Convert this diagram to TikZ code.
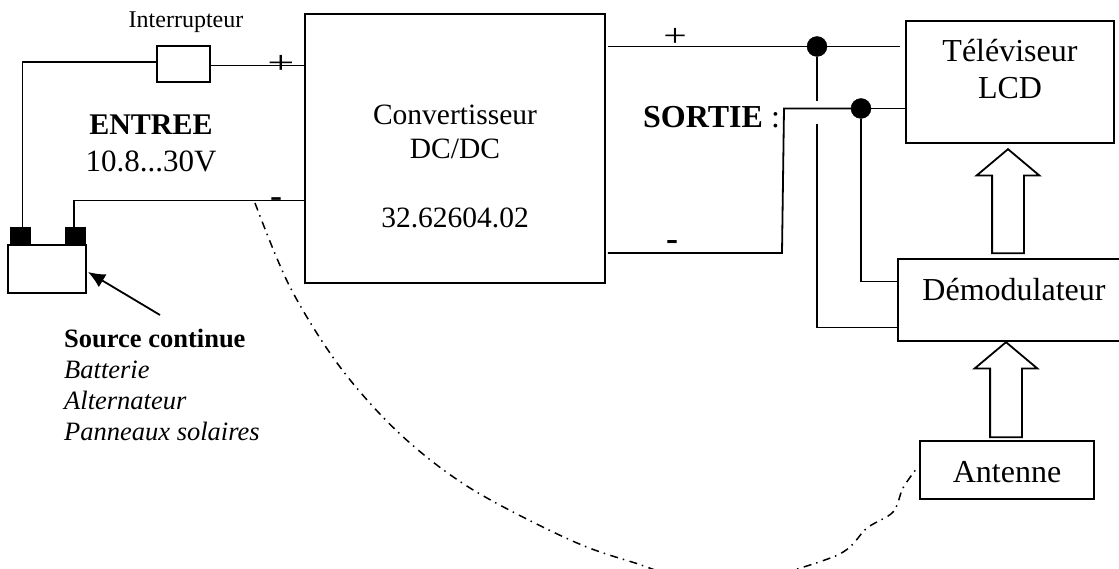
\documentclass[tikz,border=0pt]{standalone}
\usepackage{fontspec}
\setmainfont{Liberation Serif}
\usetikzlibrary{shapes.arrows, arrows.meta, calc}
\tikzset{
  dcdc/box/.style={rectangle, draw=black, fill=white, line width=1.8pt,
    inner sep=0pt, align=center},
  dcdc/wire/.style={line width=1.8pt, draw=black},
  dcdc/dot/.style={circle, fill=black, draw=black, inner sep=0pt,
    minimum size=20pt},
  dcdc/hollow/.style={single arrow, draw=black, fill=white, line width=1.8pt,
    shape border rotate=90, anchor=tip, inner sep=15pt,
    single arrow head extend=15.5pt, single arrow tip angle=100},
  dcdc/lbl/.style={anchor=base, inner sep=0pt, align=center},
  dcdc/pole/.style={inner sep=0pt, font=\fontsize{32}{32}\selectfont},
  dcdc/link/.style={line width=1.5pt, draw=black,
    dash pattern=on 8pt off 5pt on 1.5pt off 5.5pt},
  dcdc/pointer/.style={-{Latex[length=17pt,width=15pt]}, line width=1.8pt,
    draw=black}
}
\begin{document}
\begin{tikzpicture}[x=1pt, y=-1pt]
  \useasboundingbox (0,0) rectangle (1119,569);
  \clip (0,0) rectangle (1119,569);
  \fill[white] (0,0) rectangle (1119,569);

  % boites principales
  \node[dcdc/box, minimum width=300pt, anchor=base,
        text height=214pt, text depth=55pt,
        font=\fontsize{29.5}{34.5}\selectfont] at (455,228) (conv)
        {Convertisseur\\DC/DC\\[34.5pt]32.62604.02};
  \node[dcdc/box, minimum width=208pt, anchor=base,
        text height=78pt, text depth=44pt,
        font=\fontsize{32}{37}\selectfont] at (1010,99) (tv)
        {Téléviseur\\LCD};
  \node[dcdc/box, minimum width=232pt, anchor=base,
        text height=42pt, text depth=40pt,
        font=\fontsize{32}{37}\selectfont] at (1014,301) (dem) {Démodulateur};
  \node[dcdc/box, minimum width=174pt, anchor=base,
        text height=41pt, text depth=17pt,
        font=\fontsize{32}{37}\selectfont] at (1007,482) (ant) {Antenne};
  \node[dcdc/box, minimum width=53pt, minimum height=36pt] at (183.5,64) (fuse) {};

  % batterie
  \node[dcdc/box, minimum width=78pt, minimum height=48pt] at (47,269) (bat) {};
  \node[dcdc/box, fill=black, minimum width=19pt, minimum height=17pt] at (20.5,236.5) (batP) {};
  \node[dcdc/box, fill=black, minimum width=19pt, minimum height=17pt] at (75.5,236.5) (batM) {};

  % textes
  \node[dcdc/lbl, font=\fontsize{24}{24}\selectfont] at (186,28) (txtInt) {Interrupteur};
  \node[dcdc/lbl, font=\fontsize{30}{30}\selectfont\bfseries] at (151,135) (txtIn) {ENTREE};
  \node[dcdc/lbl, font=\fontsize{31}{31}\selectfont] at (151,172) (txtV) {10.8...30V};
  \node[dcdc/lbl, anchor=base west, font=\fontsize{32}{32}\selectfont] at (643,128) (txtOut)
        {\textbf{SORTIE} :};
  \node[dcdc/lbl, anchor=base west, align=left, font=\fontsize{26.5}{31}\selectfont] at (64,440) (txtSrc)
        {\textbf{Source continue}\\\textit{Batterie}\\\textit{Alternateur}\\\textit{Panneaux solaires}};

  % signes + et -
  \node[dcdc/pole] at (281,64) (inP) {\scalebox{1.5}[1]{+}};
  \node[dcdc/pole, font=\fontsize{36}{36}\selectfont] at (276,203) (inM) {-};
  \node[dcdc/pole] at (675,37) (outP) {\scalebox{1.3}[1]{+}};
  \node[dcdc/pole, font=\fontsize{36}{36}\selectfont\bfseries] at (672,246) (outM) {-};

  % points de jonction
  \node[dcdc/dot] at (817,46.5) (jP) {};
  \node[dcdc/dot] at (861,108.5) (jM) {};
  \coordinate (cutT) at (817,101);
  \coordinate (cutB) at (817,124);
  \coordinate (corner) at (784,108.5);
  \coordinate (cornerB) at (782,253);
  \coordinate (demP) at (898,327.5);
  \coordinate (demM) at (898,281.5);

  % entree
  \draw[dcdc/wire] (batP.north -| 22.5,0) |- (fuse.west |- 0,62);
  \draw[dcdc/wire] (fuse.east |- 0,65.5) -- (conv.west |- 0,65.5);
  \draw[dcdc/wire] (batM.north -| 74,0) |- (conv.west |- 0,200.5);
  % sortie
  \draw[dcdc/wire] ([xshift=2pt]conv.east |- jP) -- (jP);
  \draw[dcdc/wire] (jP) -- ([xshift=-5pt]tv.west |- jP);
  \draw[dcdc/wire] ([xshift=2pt]conv.east |- cornerB) -- (cornerB) -- (corner) -- (jM);
  \draw[dcdc/wire] (jM) -- (tv.west |- jM);
  % alimentation du demodulateur
  \draw[dcdc/wire] (jP) -- (cutT);
  \draw[dcdc/wire] (cutB) |- (demP);
  \draw[dcdc/wire] (jM) |- (demM);

  \node[dcdc/hollow, minimum height=104pt] at (1008,148) (upTv) {};
  \node[dcdc/hollow, minimum height=95pt] at (1006,341) (upDem) {};

  % fleche vers la batterie
  \coordinate (srcTail) at (160,315);
  \draw[dcdc/pointer] (srcTail) -- (88,272);

  % liaison antenne
  \coordinate (linkA) at (255,203);
  \coordinate (linkB) at (917,468);
  \draw[dcdc/link] plot[smooth, tension=0.55] coordinates {
    (linkA) (290,287) (340,367) (400,434) (470,488) (568,539) (632,562)
    (720,585) (833,557) (867,528) (893,512) (903,488) (linkB)};
\end{tikzpicture}
\end{document}
